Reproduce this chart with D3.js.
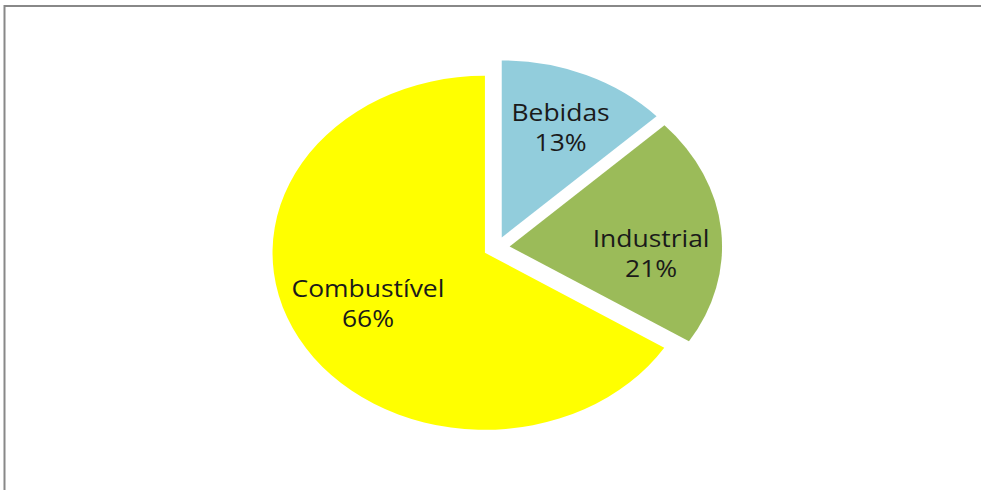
<!DOCTYPE html>
<html>
<head>
<meta charset="utf-8">
<script src="https://cdn.jsdelivr.net/npm/d3@7"></script>
<style>
  body { margin: 0; background: #fff; }
  svg { display: block; }
</style>
</head>
<body>
<div id="chart"></div>
<script>
const categories = ["Bebidas", "Industrial", "Combustível"];
const values = [13, 21, 66];
const colors = ["#92CDDC", "#9BBB59", "#FFFF00"];

const width = 981, height = 490;
// the picture is a pie stretched sideways, so x gets scaled
const cx = 496.5, cy = 247.5, r = 177, sx = 1.2, explode = 11;

const svg = d3.select("#chart").append("svg")
  .attr("width", width)
  .attr("height", height);

// frame of the chart area
svg.append("rect")
  .attr("x", 4.5).attr("y", 6)
  .attr("width", width + 20).attr("height", height + 20)
  .attr("fill", "none")
  .attr("stroke", "#888")
  .attr("stroke-width", 2);

const pie = d3.pie().sort(null).value(d => d.value);
const arcs = pie(categories.map((c, i) => ({ name: c, value: values[i], color: colors[i] })));

const arc = d3.arc().innerRadius(0).outerRadius(r);
const labelArc = d3.arc().innerRadius(r * 0.65).outerRadius(r * 0.65);

function shift(d) {
  const a = (d.startAngle + d.endAngle) / 2;
  return [Math.sin(a) * explode, -Math.cos(a) * explode];
}

const g = svg.append("g")
  .attr("transform", "translate(" + cx + "," + cy + ") scale(" + sx + ",1)");

g.selectAll("path")
  .data(arcs)
  .enter().append("path")
  .attr("d", arc)
  .attr("fill", d => d.data.color)
  .attr("transform", d => "translate(" + shift(d) + ")");

// labels; excel puts the Industrial one a bit lower than the centroid
const nudge = { Industrial: 22 };
const labels = svg.append("g").attr("transform", "translate(" + (cx + 4) + "," + cy + ")");

arcs.forEach(d => {
  const s = shift(d);
  const c = labelArc.centroid(d);
  const x = (c[0] + s[0]) * sx;
  const y = c[1] + s[1] + (nudge[d.data.name] || 0);
  const t = labels.append("g")
    .attr("transform", "translate(" + x + "," + y + ") scale(1.15,1)")
    .append("text")
    .attr("text-anchor", "middle")
    .attr("font-family", "'Open Sans', sans-serif")
    .attr("font-size", 23)
    .attr("fill", "#1a1a1a");
  t.append("tspan").attr("x", 0).attr("y", -11).text(d.data.name);
  t.append("tspan").attr("x", 0).attr("y", 19).text(Math.round(d.data.value) + "%");
});
</script>
</body>
</html>
